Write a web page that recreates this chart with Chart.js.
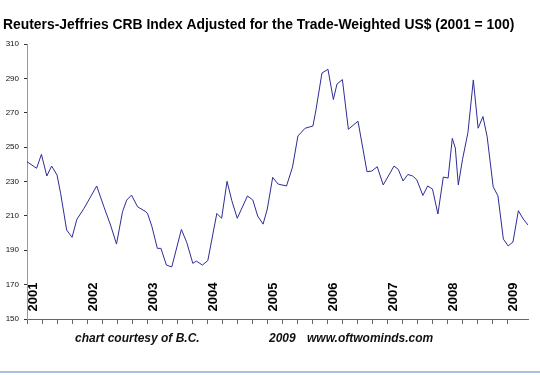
<!DOCTYPE html>
<html>
<head>
<meta charset="utf-8">
<script src="https://cdn.jsdelivr.net/npm/chart.js@4.4.1/dist/chart.umd.min.js"></script>
<style>
  html, body { margin: 0; padding: 0; background: #fff; }
  canvas { display: block; }
</style>
</head>
<body>
<canvas id="c" width="540" height="375"></canvas>
<script>
// Decimal-year dates of the traced points
const dates = [
  2001.00, 2001.16, 2001.24, 2001.33, 2001.41, 2001.50, 2001.56, 2001.66, 2001.75, 2001.83,
  2001.95, 2002.16, 2002.28, 2002.39, 2002.49, 2002.59, 2002.66, 2002.74, 2002.84, 2002.98,
  2003.01, 2003.08, 2003.17, 2003.23, 2003.32, 2003.41, 2003.57, 2003.66, 2003.76, 2003.82,
  2003.92, 2004.01, 2004.16, 2004.24, 2004.33, 2004.41, 2004.50, 2004.67, 2004.76, 2004.84,
  2004.93, 2005.00, 2005.09, 2005.18, 2005.32, 2005.42, 2005.51, 2005.63, 2005.76, 2005.81,
  2005.91, 2006.01, 2006.10, 2006.16, 2006.25, 2006.35, 2006.51, 2006.66, 2006.74, 2006.83,
  2006.93, 2007.11, 2007.18, 2007.26, 2007.34, 2007.42, 2007.49, 2007.59, 2007.67, 2007.75,
  2007.84, 2007.93, 2008.01, 2008.08, 2008.13, 2008.18, 2008.25, 2008.34, 2008.43, 2008.51,
  2008.59, 2008.66, 2008.76, 2008.84, 2008.93, 2009.01, 2009.09, 2009.18, 2009.26, 2009.34
];
// Index values (2001 = 100 basis, as plotted)
const indexValues = [
  241.5, 237.7, 245.8, 233.2, 239.0, 233.8, 223.1, 201.8, 197.5, 208.0,
  214.4, 227.4, 215.3, 204.7, 193.6, 212.4, 219.2, 222.1, 215.3, 212.4,
  211.1, 203.7, 191.1, 191.1, 181.4, 180.3, 202.1, 194.5, 182.4, 183.7,
  181.4, 184.0, 211.4, 208.6, 230.1, 218.8, 208.6, 221.6, 219.2, 209.9,
  205.2, 214.0, 232.4, 228.5, 227.4, 238.4, 256.5, 261.0, 262.3, 271.6,
  293.1, 295.3, 277.7, 286.7, 289.3, 260.4, 265.1, 235.7, 236.1, 238.6,
  228.0, 239.0, 237.1, 230.3, 234.1, 233.2, 230.9, 221.9, 227.4, 225.6,
  211.1, 232.6, 232.0, 255.1, 249.5, 228.0, 242.9, 258.5, 289.1, 261.0,
  267.8, 256.1, 227.0, 221.6, 196.5, 192.5, 194.8, 213.0, 208.2, 204.7
];
const yearLabels = [2001, 2002, 2003, 2004, 2005, 2006, 2007, 2008, 2009];
const yTicks = [150, 170, 190, 210, 230, 250, 270, 290, 310];

const titleText = 'Reuters-Jeffries CRB Index Adjusted for the Trade-Weighted US$ (2001 = 100)';

const decor = {
  id: 'decor',
  beforeDraw(chart) {
    const ctx = chart.ctx;
    ctx.save();
    ctx.fillStyle = '#fff';
    ctx.fillRect(0, 0, chart.width, chart.height);
    ctx.restore();
  },
  afterDatasetsDraw(chart) {
    const ctx = chart.ctx;
    const xs = chart.scales.x;
    ctx.save();
    // Title, fitted to the reference width
    let fs = 14;
    ctx.font = 'bold ' + fs + 'px "Liberation Sans", Arial, sans-serif';
    const w = ctx.measureText(titleText).width;
    fs = fs * 512 / w;
    ctx.font = 'bold ' + fs.toFixed(2) + 'px "Liberation Sans", Arial, sans-serif';
    ctx.fillStyle = '#000';
    ctx.textBaseline = 'alphabetic';
    ctx.textAlign = 'left';
    ctx.fillText(titleText, 3, 29);

    // Rotated year labels inside the plot
    ctx.font = 'bold 13px "Liberation Sans", Arial, sans-serif';
    ctx.textAlign = 'center';
    ctx.textBaseline = 'middle';
    yearLabels.forEach(y => {
      const px = xs.getPixelForValue(y + 0.1);
      ctx.save();
      ctx.translate(px, 297);
      ctx.rotate(-Math.PI / 2);
      ctx.fillText(String(y), 0, 0);
      ctx.restore();
    });

    // Footer
    ctx.font = 'italic bold 12px "Liberation Sans", Arial, sans-serif';
    ctx.textAlign = 'left';
    ctx.textBaseline = 'alphabetic';
    ctx.fillStyle = '#111';
    ctx.fillText('chart courtesy of B.C.', 75, 342);
    ctx.fillText('2009', 269, 342);
    ctx.fillText('www.oftwominds.com', 307, 342);

    // Bottom rule
    ctx.fillStyle = '#a9bfe3';
    ctx.fillRect(0, 371, chart.width, 2);
    ctx.restore();
  }
};

const points = dates.map((d, i) => ({ x: d, y: indexValues[i] }));

new Chart(document.getElementById('c'), {
  type: 'line',
  data: {
    datasets: [{
      data: points,
      borderColor: '#2d2d98',
      borderWidth: 1,
      pointRadius: 0,
      tension: 0,
      fill: false
    }]
  },
  options: {
    responsive: false,
    animation: false,
    devicePixelRatio: 1,
    layout: { padding: { top: 44, right: 12, left: 0, bottom: 0 } },
    plugins: { legend: { display: false }, title: { display: false }, tooltip: { enabled: false } },
    scales: {
      x: {
        type: 'linear',
        min: 2001,
        max: 2009.34,
        afterFit(s) { s.height = 56; },
        afterBuildTicks(s) {
          s.ticks = s.ticks.filter(t => Math.abs(t.value * 4 - Math.round(t.value * 4)) < 1e-6);
        },
        ticks: { stepSize: 0.25, autoSkip: false, callback: () => '', maxRotation: 0 },
        grid: { drawOnChartArea: false, drawTicks: true, tickLength: 5, color: '#666' },
        border: { display: true, color: '#666', width: 1 }
      },
      y: {
        min: 150,
        max: 310,
        afterFit(s) { s.width = 27; },
        afterBuildTicks(s) { s.ticks = yTicks.map(v => ({ value: v })); },
        ticks: {
          font: { family: '"Liberation Sans", Arial, sans-serif', size: 8 },
          color: '#111',
          padding: 5
        },
        grid: { drawOnChartArea: false, drawTicks: true, tickLength: 3, color: '#333' },
        border: { display: true, color: '#999', width: 1 }
      }
    }
  },
  plugins: [decor]
});
</script>
</body>
</html>
